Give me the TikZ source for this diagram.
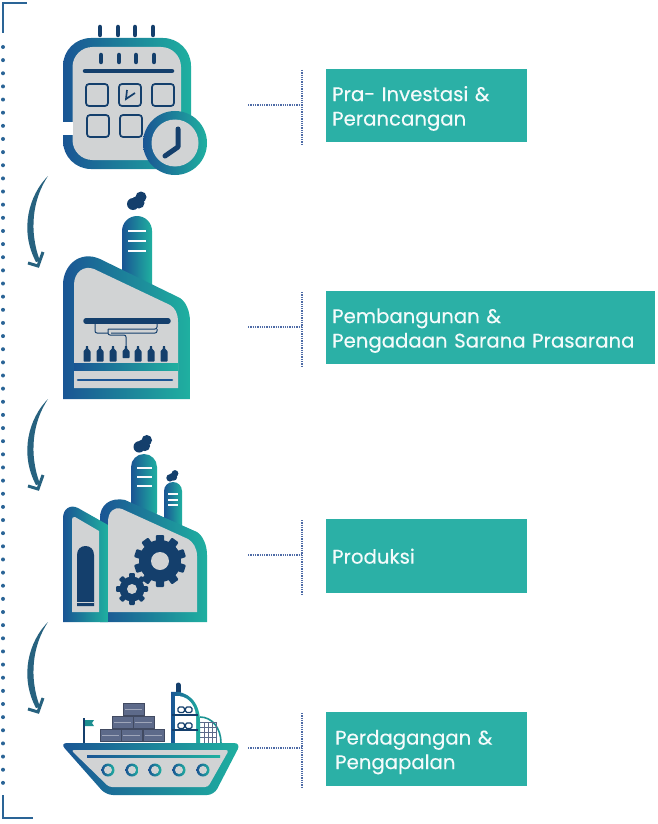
\documentclass[tikz,border=0pt]{standalone}
\usepackage{fontspec}
\setmainfont{Poppins}[FakeBold=0.25]
\definecolor{gblue}{HTML}{1A5594}
\definecolor{gteal}{HTML}{1FB0A0}
\definecolor{navy}{HTML}{143F6C}
\definecolor{panel}{HTML}{D1D3D4}
\definecolor{boxteal}{HTML}{2BB0A6}
\definecolor{dotblue}{HTML}{4E6BA6}
\definecolor{sideblue}{HTML}{2A6496}
\definecolor{arrowc}{HTML}{27627F}
\definecolor{crate}{HTML}{5D6A8A}
\newcommand{\lowerline}{\rule{0pt}{20.5pt}}
\tikzset{
  grad/.style={left color=gblue,right color=gteal,shading angle=90,draw=none},
  labelbox/.style={fill=boxteal,text=white!95!boxteal,align=left,anchor=north west,
    inner ysep=0pt,inner xsep=#1,font=\fontsize{19.7}{24.5}\selectfont},
  leader/.style={dotblue,line width=1.7pt,dash pattern=on 1.3pt off 1pt},
  cell/.style={navy,line width=1.7pt,rounded corners=3,fill=none},
  pipe/.style={navy,line width=1pt,rounded corners=2,fill=none},
  winline/.style={white!92!panel,line width=2.6pt},
  cratebox/.style={fill=crate,draw=crate!70!black,line width=.3pt},
}
\newcommand{\smoke}[3]{\fill[navy,shift={(#1,#2)},scale=#3] (4,-4) circle (5.5) (-4,3) circle (6) (2,2) circle (5.5) (0,0) circle (5);}
\newcommand{\bottle}[3]{\fill[navy,rounded corners=.6] (#1-1.2,#2) -- (#1+1.2,#2) -- (#1+1.2,#2+3) -- (#1+3.5,#2+5) -- (#1+3.5,#3) -- (#1-3.5,#3) -- (#1-3.5,#2+5) -- (#1-1.2,#2+3) -- cycle;}
\newcommand{\mygear}[7]{% x y outer body hole teeth toothwidth
  \begin{scope}[shift={(#1,#2)}]
    \fill[navy] (0,0) circle (#4);
    \foreach \a in {1,...,#6}{\fill[navy,rotate=\a*360/#6,rounded corners=1] (-#7,0) rectangle (#7,#3);}
    \fill[panel] (0,0) circle (#5);
  \end{scope}}
\newcommand{\bendarrow}[1]{%
  \begin{scope}[yshift=#1]
    \fill[arrowc] (48,176) .. controls (29,195) and (19,230) .. (36,262) -- (40,261) .. controls (29,232) and (32,200) .. (48,176) -- cycle;
    \draw[arrowc,line width=3pt,line join=miter] (28,263) -- (38,266) -- (43,252);
  \end{scope}}
\newcommand{\porthole}[1]{\shade[grad] (#1,770) circle (6.5); \fill[panel] (#1,770) circle (4);}
\begin{document}
\begin{tikzpicture}[x=1pt,y=-1pt]
\useasboundingbox (0,0) rectangle (657,824);
\fill[white] (0,0) rectangle (657,824);

% side bracket and dots
\draw[sideblue,line width=2pt] (2.5,33) -- (2.5,3) -- (27,3);
\draw[sideblue,line width=2pt] (2.5,795) -- (2.5,818) -- (33,818);
\foreach \i in {0,...,56}{\fill[sideblue] (3,47+\i*13.14) circle (2);}

% bending arrows
\bendarrow{0}\bendarrow{-223}\bendarrow{-446}

% ---- calendar
\foreach \x in {100,118,135,153}{\draw[navy,line width=4.5pt,line cap=round] (\x,27) -- (\x,35);}
\shade[grad,rounded corners=28] (63,38) rectangle (191,169);
\fill[panel,rounded corners=20] (72.5,47) rectangle (181,160);
\fill[white] (62,122) rectangle (72.5,135);
\foreach \x in {101,119,136,154}{\draw[navy,line width=4.5pt,line cap=round] (\x,55) -- (\x,62);}
\draw[navy,line width=4.5pt,line cap=round] (85,71) -- (172,71);
\draw[cell] (86,84) rectangle (108,106);
\draw[cell] (119,84) rectangle (141,106);
\draw[cell] (152,84) rectangle (174,106);
\draw[cell] (87,115) rectangle (109,137);
\draw[cell] (120,115) rectangle (142,137);
\draw[navy,line width=1.7pt] (127,90) -- (126,99) -- (135,93);
\shade[grad] (175,143) circle (32);
\fill[panel] (175,143) circle (23.5);
\draw[navy,line width=5pt,line cap=round,line join=round] (178,129) -- (178,147) -- (165,156);

% ---- factory 1
\smoke{137}{201}{1}
\shade[grad,rounded corners=15] (122,216) rectangle (152,300);
\shade[grad] (63,399) -- (63,285) .. controls (63,265) and (80,250) .. (100,259) -- (180,298)
  .. controls (186,302) and (190,311) .. (190,322) -- (190,399) -- cycle;
\fill[panel] (74,388) -- (74,285) .. controls (74,272) and (84,265) .. (94,269) -- (170,305)
  .. controls (175,308) and (178,313) .. (178,322) -- (178,388) -- cycle;
\shade[grad] (74,363) rectangle (178,370);
\draw[gblue,line width=2.6pt,line cap=round] (78,380) -- (172,380);
\foreach \y in {231,241,251}{\draw[winline] (128,\y) -- (146,\y);}
\draw[navy,line width=5.5pt,line cap=round] (86,321) -- (168,321);
\draw[pipe] (95,323) -- (95,333) -- (108,333);
\draw[pipe] (108,329) -- (157,329) -- (157,323);
\draw[pipe] (157,329) -- (157,333) -- (111,333);
\draw[pipe] (108,329) -- (108,335) -- (126,335) -- (126,346);
\foreach \x in {87,100,113,138,151,164}{\bottle{\x}{346}{361.5}}
\bottle{126}{346}{358}

% ---- factory 2
\smoke{143}{444}{.95}
\smoke{172.5}{476}{.62}
\shade[grad,rounded corners=13] (131,454) rectangle (157,525);
\shade[grad,rounded corners=9] (164,482) rectangle (182,535);
\shade[grad] (100,622) -- (100,518) .. controls (100,505) and (110,497) .. (125,500) -- (197,532)
  .. controls (203,536) and (207,545) .. (207,555) -- (207,622) -- cycle;
\fill[panel] (108,612) -- (108,522) .. controls (108,512) and (114,506) .. (122,509) -- (188,539)
  .. controls (193,542) and (197,548) .. (197,556) -- (197,612) -- cycle;
\shade[grad] (63,622) -- (63,518) .. controls (63,509) and (70,504) .. (78,508) -- (108,525) -- (108,622) -- cycle;
\fill[panel] (72,612) -- (72,521) .. controls (72,518) and (73,516) .. (75,517) -- (99,531) -- (99,612) -- cycle;
\fill[navy] (77,606) -- (77,555) .. controls (77,549) and (81,546) .. (85.5,546) .. controls (90,546) and (94,549) .. (94,555) -- (94,606) -- cycle;
\draw[panel,line width=.8pt] (77,602) -- (94,602);
\foreach \y in {468,477,486}{\draw[winline] (137,\y) -- (152,\y);}
\foreach \y in {494,500,505}{\draw[winline,line width=2pt] (168,\y) -- (178,\y);}
\mygear{160}{561}{26}{21}{9}{10}{4.2}
\mygear{132}{589}{16}{12.5}{5}{8}{2.8}

% ---- ship
\draw[navy,line width=1.4pt] (84,718) -- (84,743);
\fill[gteal!70!navy] (85,720) -- (94,720) -- (92,723) -- (94,726) -- (85,726) -- cycle;
\foreach \x/\y in {123/703,112/716,133/716,100/729,121/729,143/729}{
  \fill[cratebox] (\x,\y) rectangle ++(21,12.5);
  \draw[crate!60!white,line width=.4pt] (\x+2,\y+6) -- (\x+19,\y+6);
}
% rear house grid
\draw[gteal!75!navy,line width=1.6pt] (200,717) .. controls (212,717) and (221,728) .. (221,743);
\foreach \y in {722,727,732,737}{\draw[crate,line width=.6pt] (200,\y) -- (216,\y);}
\foreach \x in {204,208,212,216}{\draw[crate,line width=.6pt] (\x,722) -- (\x,743);}
% tower
\draw[navy,line width=5pt,line cap=round] (178,685) -- (178,692);
\shade[grad] (171,744) -- (171,692) .. controls (188,690) and (200,702) .. (200,722) -- (200,744) -- cycle;
\fill[white] (175,744) -- (175,696) .. controls (186,695) and (195,703) .. (196,716) -- (196,744) -- cycle;
\draw[navy,line width=1.6pt] (172,715) -- (198,715) (172,730) -- (198,730);
\foreach \y in {707,723}{
  \draw[navy,line width=1.3pt,rounded corners=1.5] (178,\y) rectangle (184.5,\y+5.5);
  \draw[navy,line width=1.3pt,rounded corners=1.5] (185.5,\y) rectangle (192,\y+5.5);
}
% hull
\shade[grad,rounded corners=7] (60,743) -- (241,743) -- (214,795) -- (106,795) -- cycle;
\fill[panel,rounded corners=3] (71,750) -- (229,750) -- (208,787) -- (109,787) -- cycle;
\shade[grad] (87,755) rectangle (220,757);
\foreach \x in {108,132,155,179,203}{\porthole{\x}}

% ---- labels and leaders
\node[labelbox=6pt,minimum width=201pt,minimum height=73pt,text width=189pt] (box1) at (326,69) {\lowerline Pra- Investasi \&\\Perancangan};
\node[labelbox=6pt,minimum width=329pt,minimum height=73pt,text width=317pt] (box2) at (326,291) {\lowerline Pembangunan \&\\Pengadaan Sarana Prasarana};
\node[labelbox=6pt,minimum width=201pt,minimum height=74pt,text width=189pt] (box3) at (326,519) {Produksi};
\node[labelbox=9pt,minimum width=201pt,minimum height=74pt,text width=183pt] (box4) at (326,712) {\lowerline Perdagangan \&\\Pengapalan};

\foreach \n/\y in {1/105,2/327,3/555,4/748}{
  \coordinate (from\n) at (248,\y);
  \coordinate (tee\n) at (302,\y);
  \coordinate (teetop\n) at (302,\y-35);
  \coordinate (teebot\n) at (302,\y+40);
  \draw[leader] (from\n) -- (tee\n);
  \draw[leader] (teetop\n) -- (teebot\n);
}
\end{tikzpicture}
\end{document}
